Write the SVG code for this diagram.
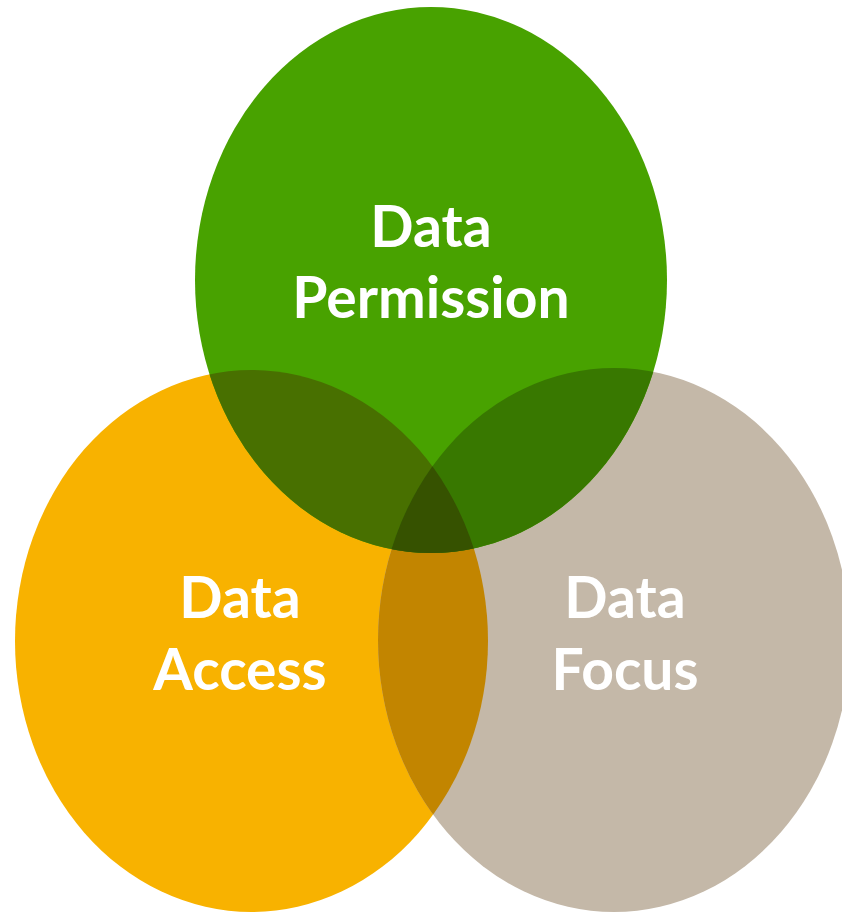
<svg xmlns="http://www.w3.org/2000/svg" xmlns:xlink="http://www.w3.org/1999/xlink" width="842" height="914" viewBox="0 0 842 914">
  <style>
    .lbl { font-family: Lato, "Liberation Sans", Arial, sans-serif; font-weight: 700; font-size: 57px; fill: #ffffff; text-anchor: middle; }
  </style>
  <defs>
    <ellipse id="eGreen" cx="431" cy="280" rx="236" ry="273"/>
    <ellipse id="eOrange" cx="251.5" cy="641" rx="236.5" ry="271"/>
    <ellipse id="eBeige" cx="614" cy="640" rx="236" ry="272"/>
    <clipPath id="cGreen"><use xlink:href="#eGreen"/></clipPath>
    <clipPath id="cOrange"><use xlink:href="#eOrange"/></clipPath>
    <clipPath id="cBeige"><use xlink:href="#eBeige"/></clipPath>
  </defs>
  <rect width="842" height="914" fill="#ffffff"/>
  <g id="node-access">
    <use xlink:href="#eOrange" fill="#f8b200"/>
  </g>
  <g id="node-focus">
    <use xlink:href="#eBeige" fill="#c4b8a8"/>
  </g>
  <g id="node-permission">
    <use xlink:href="#eGreen" fill="#48a200"/>
  </g>
  <g id="overlaps">
    <g clip-path="url(#cOrange)"><use xlink:href="#eBeige" fill="#c28500"/></g>
    <g clip-path="url(#cOrange)"><use xlink:href="#eGreen" fill="#487000"/></g>
    <g clip-path="url(#cBeige)"><use xlink:href="#eGreen" fill="#387800"/></g>
    <g clip-path="url(#cOrange)"><g clip-path="url(#cBeige)"><use xlink:href="#eGreen" fill="#365200"/></g></g>
  </g>
  <g id="labels">
    <text class="lbl" x="431" y="247">Data</text>
    <text class="lbl" x="431" y="318">Permission</text>
    <text class="lbl" x="240" y="618">Data</text>
    <text class="lbl" x="240" y="690">Access</text>
    <text class="lbl" x="625" y="618">Data</text>
    <text class="lbl" x="625" y="690">Focus</text>
  </g>
</svg>
